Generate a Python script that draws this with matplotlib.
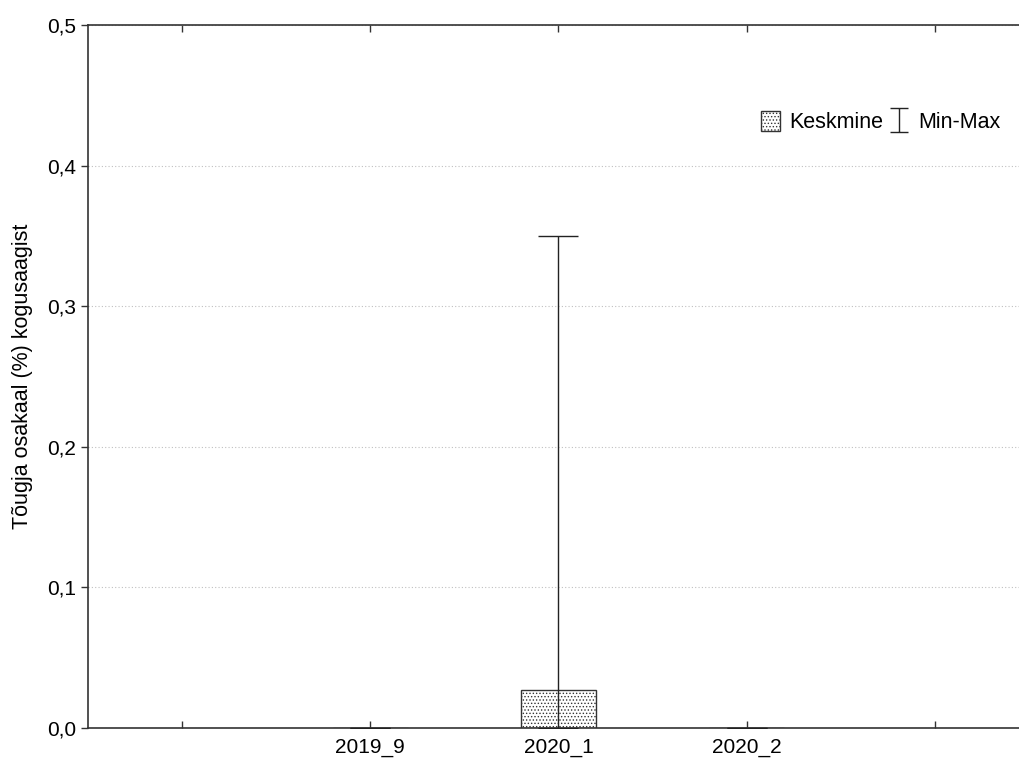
import numpy as np
import matplotlib
matplotlib.use("Agg")
import matplotlib.pyplot as plt
from matplotlib.path import Path
from matplotlib.lines import Line2D

plt.rcParams['font.family'] = ['Liberation Sans', 'DejaVu Sans']
plt.rcParams['hatch.linewidth'] = 0.6

# data
categories = ['2019_9', '2020_1', '2020_2']
mean_vals = [0.0, 0.027, 0.0]
min_vals = [0.0, 0.0, 0.0]
max_vals = [0.0, 0.35, 0.0]
y_ticks = [0.0, 0.1, 0.2, 0.3, 0.4, 0.5]

W, H = 1019, 763
fig = plt.figure(figsize=(W / 100, H / 100), dpi=100)
# axes runs a bit past the right edge of the picture, like the source
ax = fig.add_axes([88 / W, 35 / H, 941 / W, 703 / H])

x = np.arange(1, len(categories) + 1)
mean_arr = np.array(mean_vals)
lower = mean_arr - np.array(min_vals)
upper = np.array(max_vals) - mean_arr

bars = ax.bar(x, mean_vals, width=0.4, color='white', edgecolor='#333333',
              linewidth=1.0, hatch='.....', zorder=2)
ax.errorbar(x, mean_vals, yerr=[lower, upper], fmt='none', ecolor='#222222',
            elinewidth=1.0, capsize=14.5, capthick=1.0, zorder=3)

ax.set_xlim(-0.5, 4.5)
ax.set_ylim(0, 0.5)
ax.set_xticks(range(0, 5))
ax.set_xticklabels([''] + categories + [''])
ax.set_yticks(y_ticks)
ax.set_yticklabels([('%.1f' % v).replace('.', ',') for v in y_ticks])

ax.yaxis.grid(True, linestyle=(0, (1, 2)), color='#c0c0c0', linewidth=0.8)
ax.set_axisbelow(True)

ax.tick_params(axis='x', direction='in', top=True, length=5, width=1, colors='#333333',
               labelcolor='black', labelsize=15, pad=7)
ax.tick_params(axis='y', direction='out', length=5, width=1, colors='#333333',
               labelcolor='black', labelsize=15)
for s in ax.spines.values():
    s.set_color('#333333')
    s.set_linewidth(1.2)

ax.set_ylabel('Tõugja osakaal (%) kogusaagist', fontsize=15.5, labelpad=10)

# I-shaped marker for the min-max legend entry
ibar = Path([(-0.8, 1), (0.8, 1), (0, 1), (0, -1), (-0.8, -1), (0.8, -1)],
            [Path.MOVETO, Path.LINETO, Path.MOVETO, Path.LINETO, Path.MOVETO, Path.LINETO])
minmax_handle = Line2D([], [], linestyle='none', marker=ibar, markersize=17,
                       markeredgecolor='#222222', markerfacecolor='none', markeredgewidth=1.0)

ax.legend(handles=[bars, minmax_handle], labels=['Keskmine', 'Min-Max'], ncol=2,
          frameon=False, fontsize=15.5, loc='center left',
          bbox_to_anchor=(742 / W, 1 - 122 / H), bbox_transform=fig.transFigure,
          handlelength=0.85, handleheight=1.1, columnspacing=0.3, handletextpad=0.45)

fig.savefig('out.png', dpi=100)
